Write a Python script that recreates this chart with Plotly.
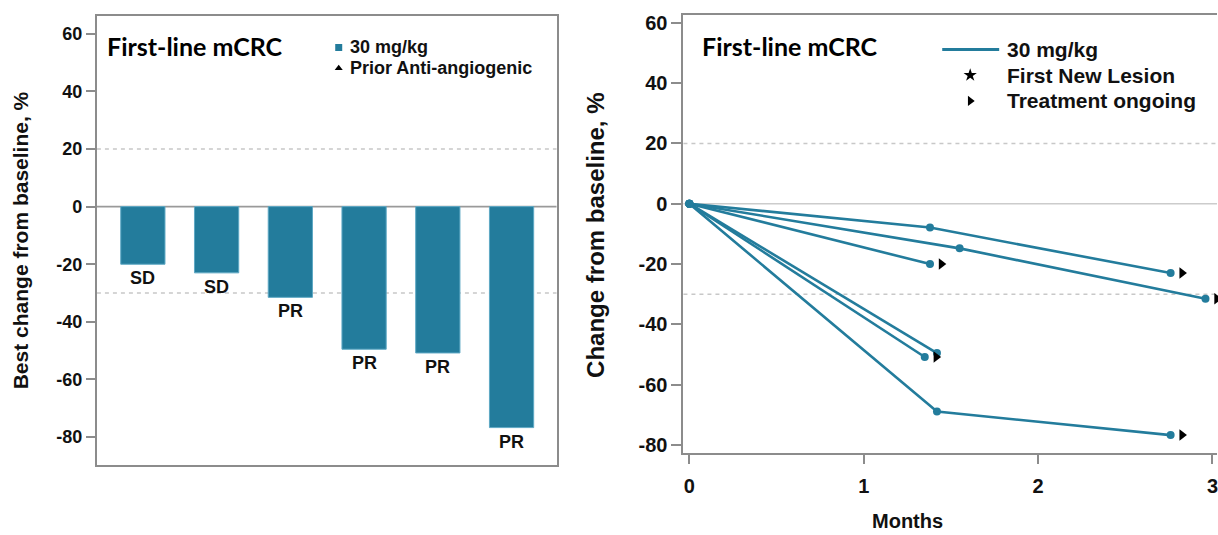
import plotly.graph_objects as go

# ---------------- data ----------------
# per-patient tumour measurements over time (months, % change from baseline)
months = [
    [0, 1.38, 2.76],
    [0, 1.55, 2.96],
    [0, 1.38],
    [0, 1.42],
    [0, 1.35],
    [0, 1.42, 2.76],
]
change = [
    [0, -7.9, -23.0],
    [0, -14.8, -31.5],
    [0, -20.0],
    [0, -49.5],
    [0, -50.8],
    [0, -68.9, -76.7],
]
ongoing = [True, True, True, False, True, True]

# best response per patient, ordered for the waterfall
best_change = [-20.0, -23.0, -31.5, -49.5, -50.8, -76.7]
best_response = ["SD", "SD", "PR", "PR", "PR", "PR"]

y_ticks = [60, 40, 20, 0, -20, -40, -60, -80]
x_ticks = [0, 1, 2, 3]
ref_lines = [20, -30]

panel_title = "First-line mCRC"
dose_label = "30 mg/kg"

# ---------------- style ----------------
W, H = 1218, 535
TEAL = "#237c9c"
AXIS = "#8c8c8c"
GRID = "#c8c8c8"
FONT = "Liberation Sans, Arial, sans-serif"
TITLE_FONT = "Lato, Carlito, Calibri, sans-serif"


def px(x):
    return x / W


def py(y):
    return 1 - y / H


def bold_labels(vals):
    return [f"<b>{v}</b>" for v in vals]


fig = go.Figure()

# ---------- left panel: waterfall ----------
cats = list(range(len(best_change)))
fig.add_trace(go.Bar(
    x=cats, y=best_change, width=0.6,
    marker=dict(color=TEAL, line=dict(color="#5ea8c4", width=1)),
    xaxis="x", yaxis="y", showlegend=False, hoverinfo="skip",
))
for c, v, r in zip(cats, best_change, best_response):
    fig.add_annotation(x=c, y=v, xref="x", yref="y", text=f"<b>{r}</b>",
                       showarrow=False, yanchor="top", yshift=-2,
                       font=dict(family=FONT, size=18, color="#111"))

# ---------- right panel: spider plot ----------
arrow_offset = 0.065
for xs, ys, go_on in zip(months, change, ongoing):
    fig.add_trace(go.Scatter(
        x=xs, y=ys, mode="lines+markers", xaxis="x2", yaxis="y2",
        line=dict(color=TEAL, width=2.6),
        marker=dict(color=TEAL, size=8, symbol="circle"),
        showlegend=False, hoverinfo="skip", cliponaxis=False,
    ))
    if go_on:
        fig.add_trace(go.Scatter(
            x=[xs[-1] + arrow_offset], y=[ys[-1]], mode="markers",
            xaxis="x2", yaxis="y2",
            marker=dict(color="black", size=10, symbol="triangle-right"),
            showlegend=False, hoverinfo="skip", cliponaxis=False,
        ))

# ---------- reference lines ----------
for xa, ya, zc in (("x", "y", "#9a9a9a"), ("x2", "y2", "#cccccc")):
    xd = "x domain" if xa == "x" else "x2 domain"
    for r in ref_lines:
        fig.add_shape(type="line", xref=xd, yref=ya, x0=0, x1=1, y0=r, y1=r,
                      line=dict(color=GRID, width=1.5, dash="4px,4px"), layer="below")
    fig.add_shape(type="line", xref=xd, yref=ya, x0=0, x1=1, y0=0, y1=0,
                  line=dict(color=zc, width=1.6), layer="below")

# ---------- legends (overlay axis in pixel units) ----------
leg_marks = [
    (339, 45, "square", TEAL, 7),
    (339, 66, "triangle-up", "black", 7),
    (971, 73, "star", "black", 10),
    (971, 99, "triangle-right", "black", 9),
]
for lx, ly, sym, col, sz in leg_marks:
    fig.add_trace(go.Scatter(x=[lx], y=[ly], mode="markers", xaxis="x3", yaxis="y3",
                             marker=dict(symbol=sym, color=col, size=sz),
                             showlegend=False, hoverinfo="skip"))
fig.add_trace(go.Scatter(x=[943, 1000], y=[47, 47], mode="lines", xaxis="x3", yaxis="y3",
                         line=dict(color=TEAL, width=3), showlegend=False, hoverinfo="skip"))

leg_texts = [
    (348, 45, dose_label, 18),
    (348, 66, "Prior Anti-angiogenic", 18),
    (1006, 47, dose_label, 21),
    (1006, 73, "First New Lesion", 21),
    (1006, 99, "Treatment ongoing", 21),
]
for lx, ly, t, s in leg_texts:
    fig.add_annotation(x=px(lx), y=py(ly), xref="paper", yref="paper", text=f"<b>{t}</b>",
                       showarrow=False, xanchor="left", yanchor="middle",
                       font=dict(family=FONT, size=s, color="#111"))

for tx in (105, 701):
    fig.add_annotation(x=px(tx), y=py(43), xref="paper", yref="paper",
                       text=f"<b>{panel_title}</b>", showarrow=False,
                       xanchor="left", yanchor="middle",
                       font=dict(family=TITLE_FONT, size=25, color="#000"))

# axis titles
fig.add_annotation(x=px(20), y=py(240), xref="paper", yref="paper",
                   text="<b>Best change from baseline, %</b>", textangle=-90,
                   showarrow=False, xanchor="center", yanchor="middle",
                   font=dict(family=FONT, size=21, color="#111"))
fig.add_annotation(x=px(596), y=py(235), xref="paper", yref="paper",
                   text="<b>Change from baseline, %</b>", textangle=-90,
                   showarrow=False, xanchor="center", yanchor="middle",
                   font=dict(family=FONT, size=24, color="#111"))
fig.add_annotation(x=px(908), y=py(524), xref="paper", yref="paper",
                   text="<b>Months</b>", showarrow=False,
                   xanchor="center", yanchor="middle",
                   font=dict(family=FONT, size=20, color="#111"))

tickfont_l = dict(family=FONT, size=18, color="#111")
tickfont_r = dict(family=FONT, size=20, color="#111")

fig.update_layout(
    width=W, height=H,
    margin=dict(l=0, r=0, t=0, b=0),
    paper_bgcolor="white", plot_bgcolor="rgba(0,0,0,0)",
    xaxis=dict(domain=[px(97), px(557)], range=[-0.623, 5.61],
               showticklabels=False, ticks="", showgrid=False, zeroline=False,
               showline=True, linecolor=AXIS, linewidth=2, mirror=True),
    yaxis=dict(domain=[py(467), py(13)], range=[-89.6, 66.2],
               tickvals=y_ticks, ticktext=bold_labels(y_ticks),
               ticks="outside", ticklen=9, tickwidth=1.5,
               tickcolor=AXIS, tickfont=tickfont_l, ticklabelstandoff=0,
               showgrid=False, zeroline=False,
               showline=True, linecolor=AXIS, linewidth=2, mirror=True),
    xaxis2=dict(domain=[px(684), 1.0], range=[-0.034, 3.026], anchor="y2",
                tickvals=x_ticks, ticktext=bold_labels(x_ticks),
                ticks="outside", ticklen=9, tickwidth=1.5,
                tickcolor=AXIS, tickfont=tickfont_r, ticklabelstandoff=5,
                ticklabeloverflow="allow",
                showgrid=False, zeroline=False,
                showline=True, linecolor=AXIS, linewidth=2, mirror=True),
    yaxis2=dict(domain=[py(455), py(12)], range=[-82.6, 62.6], anchor="x2",
                tickvals=y_ticks, ticktext=bold_labels(y_ticks),
                ticks="outside", ticklen=10, tickwidth=1.5,
                tickcolor=AXIS, tickfont=tickfont_r, ticklabelstandoff=0,
                showgrid=False, zeroline=False,
                showline=True, linecolor=AXIS, linewidth=2),
    xaxis3=dict(domain=[0, 1], range=[0, W], visible=False, anchor="y3"),
    yaxis3=dict(domain=[0, 1], range=[H, 0], visible=False, anchor="x3"),
)

fig.write_html("out.html")
